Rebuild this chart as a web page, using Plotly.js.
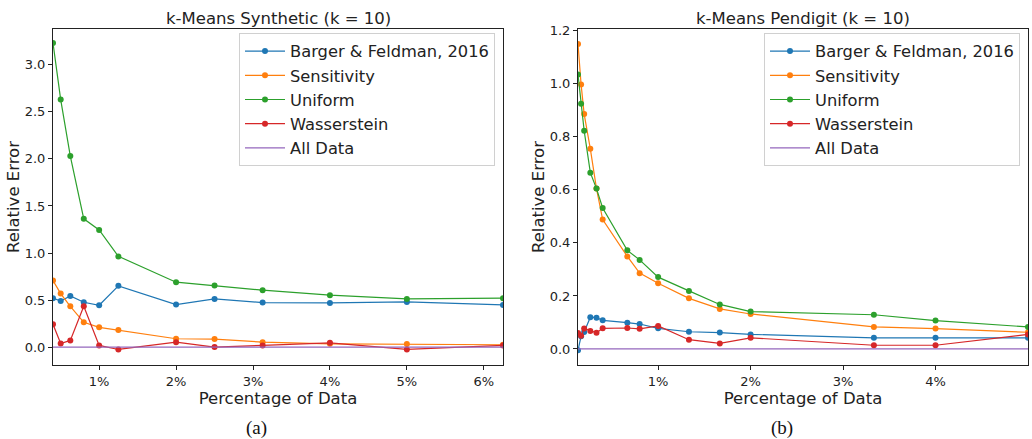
<!DOCTYPE html>
<html>
<head>
<meta charset="utf-8">
<script src="https://cdn.plot.ly/plotly-3.0.1.min.js"></script>
<style>html,body{margin:0;padding:0;background:#fff;}#chart{width:1032px;height:439px;}</style>
</head>
<body>
<div id="chart"></div>
<script>
// ---- (a) k-Means Synthetic ----
const synthX = [0.4, 0.5, 0.625, 0.8, 1.0, 1.25, 2.0, 2.5, 3.125, 4.0, 5.0, 6.25];
const synthBarger = [0.52, 0.49, 0.544, 0.477, 0.445, 0.651, 0.452, 0.512, 0.473, 0.47, 0.48, 0.448];
const synthSensitivity = [0.708, 0.569, 0.434, 0.264, 0.21, 0.181, 0.089, 0.085, 0.053, 0.035, 0.032, 0.025];
const synthUniform = [3.23, 2.63, 2.03, 1.363, 1.245, 0.964, 0.69, 0.654, 0.605, 0.552, 0.512, 0.52];
const synthWasserstein = [0.242, 0.039, 0.071, 0.434, 0.018, -0.025, 0.053, 0.0, 0.018, 0.046, -0.025, 0.018];
const synthAllData = [0, 0, 0, 0, 0, 0, 0, 0, 0, 0, 0, 0];

// ---- (b) k-Means Pendigit ----
const pendX = [0.1333, 0.1667, 0.2, 0.2667, 0.3333, 0.4, 0.6667, 0.8, 1.0, 1.3333, 1.6667, 2.0, 3.3333, 4.0, 5.0];
const pendBarger = [-0.005, 0.048, 0.064, 0.12, 0.118, 0.108, 0.099, 0.094, 0.078, 0.065, 0.062, 0.055, 0.042, 0.042, 0.042];
const pendSensitivity = [1.15, 0.998, 0.886, 0.755, 0.605, 0.488, 0.349, 0.286, 0.248, 0.191, 0.151, 0.132, 0.083, 0.077, 0.063];
const pendUniform = [1.035, 0.925, 0.823, 0.665, 0.605, 0.532, 0.372, 0.336, 0.271, 0.219, 0.168, 0.141, 0.129, 0.107, 0.083];
const pendWasserstein = [0.06, 0.05, 0.077, 0.068, 0.061, 0.078, 0.079, 0.076, 0.087, 0.035, 0.021, 0.042, 0.014, 0.014, 0.055];
const pendAllData = [0, 0, 0, 0, 0, 0, 0, 0, 0, 0, 0, 0, 0, 0, 0];

const seriesNames = ["Barger & Feldman, 2016", "Sensitivity", "Uniform", "Wasserstein", "All Data"];
const colors = ["#1f77b4", "#ff7f0e", "#2ca02c", "#d62728", "#9467bd"];

function makeTraces(x, ys, xa, ya, legendId) {
  return ys.map((y, i) => ({
    x: x, y: y, xaxis: xa, yaxis: ya, legend: legendId,
    name: seriesNames[i],
    mode: i === 4 ? "lines" : "lines+markers",
    line: {color: colors[i], width: 1.2},
    marker: {color: colors[i], size: 6},
    cliponaxis: true,
    showlegend: true
  }));
}

const traces = [].concat(
  makeTraces(synthX, [synthBarger, synthSensitivity, synthUniform, synthWasserstein, synthAllData], "x", "y", "legend"),
  makeTraces(pendX, [pendBarger, pendSensitivity, pendUniform, pendWasserstein, pendAllData], "x2", "y2", "legend2")
);

const font = "DejaVu Sans, sans-serif";
const axisCommon = {
  showgrid: false, zeroline: false,
  showline: true, linecolor: "#222", linewidth: 1, mirror: true,
  ticks: "outside", ticklen: 4, tickwidth: 1, tickcolor: "#222",
  tickfont: {family: font, size: 13, color: "#222"}
};
const titleFont = {family: font, size: 16.5, color: "#222"};

const layout = {
  width: 1032, height: 439,
  margin: {l: 0, r: 0, t: 0, b: 0},
  paper_bgcolor: "#fff", plot_bgcolor: "#fff",
  font: {family: font, color: "#222"},
  xaxis: Object.assign({}, axisCommon, {
    domain: [53/1032, 503/1032], range: [0.4, 6.25],
    tickvals: [1, 2, 3, 4, 5, 6], ticktext: ["1%", "2%", "3%", "4%", "5%", "6%"],
    title: {text: "Percentage of Data", font: titleFont, standoff: 3},
    anchor: "y"
  }),
  yaxis: Object.assign({}, axisCommon, {
    domain: [74/439, 410/439], range: [-0.19, 3.38],
    tickvals: [0, 0.5, 1, 1.5, 2, 2.5, 3], tickformat: ".1f",
    title: {text: "Relative Error", font: titleFont, standoff: 0},
    anchor: "x"
  }),
  xaxis2: Object.assign({}, axisCommon, {
    domain: [578/1032, 1028/1032], range: [0.1333, 5.0],
    tickvals: [1, 2, 3, 4], ticktext: ["1%", "2%", "3%", "4%"],
    title: {text: "Percentage of Data", font: titleFont, standoff: 3},
    anchor: "y2"
  }),
  yaxis2: Object.assign({}, axisCommon, {
    domain: [74/439, 410/439], range: [-0.0605, 1.207],
    tickvals: [0, 0.2, 0.4, 0.6, 0.8, 1.0, 1.2], tickformat: ".1f",
    title: {text: "Relative Error", font: titleFont, standoff: 0},
    anchor: "x2"
  }),
  legend: {
    x: 495/1032, xanchor: "right", y: 406/439, yanchor: "top",
    bgcolor: "rgba(255,255,255,0.9)", bordercolor: "#d0d0d0", borderwidth: 1,
    font: {family: font, size: 16.3, color: "#222"}, itemwidth: 40, tracegroupgap: 0
  },
  legend2: {
    x: 1020/1032, xanchor: "right", y: 406/439, yanchor: "top",
    bgcolor: "rgba(255,255,255,0.9)", bordercolor: "#d0d0d0", borderwidth: 1,
    font: {family: font, size: 16.3, color: "#222"}, itemwidth: 40, tracegroupgap: 0
  },
  annotations: [
    {text: "k-Means Synthetic (k = 10)", xref: "paper", yref: "paper", x: 278/1032, y: 420/439, xanchor: "center", yanchor: "middle", showarrow: false, font: {family: font, size: 16.5, color: "#222"}},
    {text: "k-Means Pendigit (k = 10)", xref: "paper", yref: "paper", x: 803/1032, y: 420/439, xanchor: "center", yanchor: "middle", showarrow: false, font: {family: font, size: 16.5, color: "#222"}},
    {text: "(a)", xref: "paper", yref: "paper", x: 256/1032, y: 11/439, xanchor: "center", yanchor: "middle", showarrow: false, font: {family: "Liberation Serif, serif", size: 19, color: "#111"}},
    {text: "(b)", xref: "paper", yref: "paper", x: 782/1032, y: 11/439, xanchor: "center", yanchor: "middle", showarrow: false, font: {family: "Liberation Serif, serif", size: 19, color: "#111"}}
  ],
  showlegend: true
};

Plotly.newPlot("chart", traces, layout, {staticPlot: true, displayModeBar: false});
</script>
</body>
</html>
